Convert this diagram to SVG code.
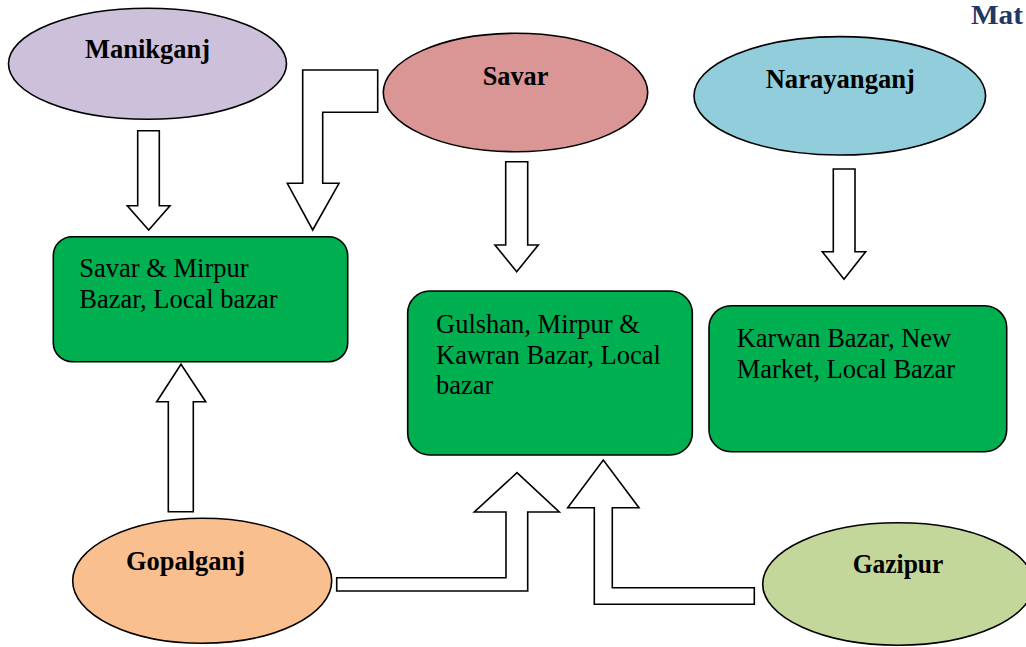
<svg xmlns="http://www.w3.org/2000/svg" width="1026" height="647" viewBox="0 0 1026 647">
<style>
.node{stroke:#000;stroke-width:1.6}
.box{fill:#00B050;stroke:#000;stroke-width:1.6}
.arrow{fill:#fff;stroke:#000;stroke-width:1.6;stroke-linejoin:miter}
.lbl{font-family:"Liberation Serif","Times New Roman",serif;font-weight:bold;font-size:28px;fill:#000}
.txt{font-family:"Liberation Serif","Times New Roman",serif;font-size:26.5px;fill:#000}
.title{font-family:"Liberation Serif","Times New Roman",serif;font-weight:bold;font-size:27px;fill:#1F3864}
</style>
<rect width="1026" height="647" fill="#fff"/>
<text class="title" x="971" y="24" textLength="52" lengthAdjust="spacingAndGlyphs">Mat</text>
<g id="connectors">
<polygon class="arrow" points="137.7,130.7 159.3,130.7 159.3,205.7 170,205.7 148.7,230 127.3,205.7 137.7,205.7"/>
<polygon class="arrow" points="302.7,70 377.7,70 377.7,112.3 322.7,112.3 322.7,183.3 339,183.3 312.7,230 287.3,183.3 302.7,183.3"/>
<polygon class="arrow" points="505.7,161.7 527.7,161.7 527.7,245 538.3,245 516.7,271.7 495,245 505.7,245"/>
<polygon class="arrow" points="833.3,169 855,169 855,251.7 865.7,251.7 844,279.3 822.3,251.7 833.3,251.7"/>
<polygon class="arrow" points="168.3,511.7 193.3,511.7 193.3,401.7 205.7,401.7 181,364.3 156.7,401.7 168.3,401.7"/>
<polygon class="arrow" points="336.7,577.7 506,577.7 506,512 474.3,512 517,472.7 559.3,512 527.7,512 527.7,591 336.7,591"/>
<polygon class="arrow" points="754.3,587.7 612.3,587.7 612.3,507.7 639,507.7 603.3,460 567.7,507.7 594.3,507.7 594.3,604.3 754.3,604.3"/>
</g>
<g id="manikganj">
<ellipse class="node" cx="147.5" cy="63.8" rx="139" ry="55.5" fill="#CCC0DA"/>
<text class="lbl" x="147.5" y="58.3" text-anchor="middle" textLength="125" lengthAdjust="spacingAndGlyphs">Manikganj</text>
</g>
<g id="savar">
<ellipse class="node" cx="515.5" cy="92.5" rx="132.2" ry="59.2" fill="#DA9694"/>
<text class="lbl" x="515.5" y="85" text-anchor="middle" textLength="65.7" lengthAdjust="spacingAndGlyphs">Savar</text>
</g>
<g id="narayanganj">
<ellipse class="node" cx="839.8" cy="95.8" rx="145.8" ry="59.2" fill="#92CDDC"/>
<text class="lbl" x="840.3" y="88.3" text-anchor="middle" textLength="149.3" lengthAdjust="spacingAndGlyphs">Narayanganj</text>
</g>
<g id="market1">
<rect class="box" x="53.3" y="236.7" width="294.4" height="125" rx="19" ry="19"/>
<text class="txt" x="79.3" y="276.7">Savar &amp; Mirpur</text>
<text class="txt" x="79.3" y="308.3">Bazar, Local bazar</text>
</g>
<g id="market2">
<rect class="box" x="407.7" y="291" width="284.6" height="164" rx="22" ry="22"/>
<text class="txt" x="436" y="333.3">Gulshan, Mirpur &amp;</text>
<text class="txt" x="436" y="363.8">Kawran Bazar, Local</text>
<text class="txt" x="436" y="394.3">bazar</text>
</g>
<g id="market3">
<rect class="box" x="709" y="305.7" width="297.7" height="146" rx="22" ry="22"/>
<text class="txt" x="736.7" y="346.7">Karwan Bazar, New</text>
<text class="txt" x="736.7" y="378.3">Market, Local Bazar</text>
</g>
<g id="gopalganj">
<ellipse class="node" cx="202.2" cy="580.8" rx="129.5" ry="62.5" fill="#FABF8F"/>
<text class="lbl" x="185.5" y="570" text-anchor="middle" textLength="119" lengthAdjust="spacingAndGlyphs">Gopalganj</text>
</g>
<g id="gazipur">
<ellipse class="node" cx="898" cy="584" rx="135.3" ry="61.2" fill="#C4D79B"/>
<text class="lbl" x="898" y="573.3" text-anchor="middle" textLength="90.7" lengthAdjust="spacingAndGlyphs">Gazipur</text>
</g>
</svg>
